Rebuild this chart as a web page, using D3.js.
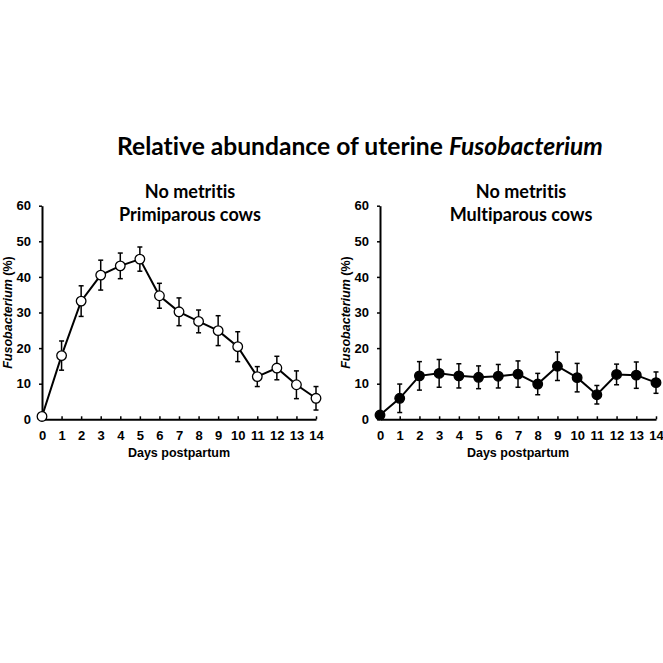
<!DOCTYPE html>
<html>
<head>
<meta charset="utf-8">
<script src="https://cdn.jsdelivr.net/npm/d3@7"></script>
<style>
  html, body { margin: 0; padding: 0; background: #fff; }
  svg { display: block; }
  text { font-variant-ligatures: none; font-feature-settings: "liga" 0, "clig" 0; }
</style>
</head>
<body>
<svg id="chart" width="663" height="663"></svg>
<script>
// ---- data ----
const days = [0, 1, 2, 3, 4, 5, 6, 7, 8, 9, 10, 11, 12, 13, 14];
const yTicks = [0, 10, 20, 30, 40, 50, 60];
const primiMean = [0.8, 17.9, 33.2, 40.5, 43.1, 45.0, 34.7, 30.2, 27.5, 24.9, 20.4, 12.0, 14.4, 9.7, 5.9];
const primiSE   = [0, 4.1, 4.3, 4.2, 3.6, 3.4, 3.5, 3.9, 3.2, 4.2, 4.2, 2.8, 3.3, 3.9, 3.3];
const multiMean = [1.2, 5.9, 12.2, 12.9, 12.2, 11.8, 12.1, 12.7, 9.9, 14.9, 11.7, 6.9, 12.6, 12.4, 10.3];
const multiSE   = [0, 4.0, 4.0, 3.9, 3.4, 3.2, 3.3, 3.7, 3.0, 4.0, 4.0, 2.6, 2.9, 3.7, 3.0];
const mainTitle = ["Relative abundance of uterine ", "Fusobacterium"];
const panelTitles = [["No metritis", "Primiparous cows"], ["No metritis", "Multiparous cows"]];
const xLabel = "Days postpartum";
const yLabelParts = ["Fusobacterium", " (%)"];

const svg = d3.select("#chart");
const axisFont = "'Liberation Sans', Arial, sans-serif";
const titleFont = "Lato, 'Noto Sans', sans-serif";

// ---- main title (fit to measured width) ----
const title = svg.append("text")
  .attr("x", 117).attr("y", 155)
  .attr("font-family", titleFont).attr("font-weight", 700)
  .attr("font-size", 24).attr("fill", "#000");
title.append("tspan").text(mainTitle[0]);
title.append("tspan").attr("font-style", "italic").text(mainTitle[1]);
{
  const w = title.node().getComputedTextLength();
  title.attr("font-size", 24 * 486 / w);
}

const panels = [
  { x0: 42, x1: 316, mean: primiMean, se: primiSE, filled: false, titles: panelTitles[0], tcx: 190 },
  { x0: 380, x1: 656, mean: multiMean, se: multiSE, filled: true, titles: panelTitles[1], tcx: 521 }
];
const yTop = 205.7, yBot = 419.3;

// subtitle size fit
let subSize = 16;
{
  const t = svg.append("text").attr("font-family", titleFont).attr("font-weight", 700)
    .attr("font-size", 16).text(panelTitles[0][1]);
  subSize = 16 * 142 / t.node().getComputedTextLength();
  t.remove();
}

panels.forEach(p => {
  const x = d3.scaleLinear().domain([0, 14]).range([p.x0, p.x1]);
  const y = d3.scaleLinear().domain([0, 60]).range([yBot, yTop]);
  const g = svg.append("g");

  // axes
  const ya = g.append("g").attr("transform", `translate(${p.x0},0)`)
    .call(d3.axisLeft(y).tickValues(yTicks).tickSizeInner(3).tickSizeOuter(0).tickPadding(8));
  const xa = g.append("g").attr("transform", `translate(0,${yBot})`)
    .call(d3.axisBottom(x).tickValues(days).tickSizeInner(-3).tickSizeOuter(0).tickPadding(11));
  [ya, xa].forEach(a => {
    a.select(".domain").attr("stroke", "#000").attr("stroke-width", 2);
    a.selectAll(".tick line").attr("stroke", "#000").attr("stroke-width", 1.5);
    a.selectAll(".tick text").attr("font-family", axisFont).attr("font-weight", 700)
      .attr("font-size", 13).attr("fill", "#000");
  });

  // axis titles
  g.append("text").attr("x", (p.x0 + p.x1) / 2).attr("y", 457)
    .attr("text-anchor", "middle").attr("font-family", axisFont).attr("font-weight", 700)
    .attr("font-size", 12.5).attr("fill", "#000").text(xLabel);
  const yl = g.append("text")
    .attr("transform", `translate(${p.x0 - 34},${(yTop + yBot) / 2}) rotate(-90)`)
    .attr("text-anchor", "middle").attr("dominant-baseline", "central")
    .attr("font-family", axisFont).attr("font-weight", 700)
    .attr("font-size", 12.5).attr("fill", "#000");
  yl.append("tspan").attr("font-style", "italic").text(yLabelParts[0]);
  yl.append("tspan").text(yLabelParts[1]);

  // panel titles
  p.titles.forEach((t, i) => {
    g.append("text").attr("x", p.tcx).attr("y", 198 + i * 23)
      .attr("text-anchor", "middle").attr("font-family", titleFont).attr("font-weight", 700)
      .attr("font-size", subSize).attr("fill", "#000").text(t);
  });

  const pts = days.map((d, i) => ({ d, m: p.mean[i], s: p.se[i] }));

  // line
  g.append("path").datum(pts)
    .attr("fill", "none").attr("stroke", "#000").attr("stroke-width", 2)
    .attr("d", d3.line().x(v => x(v.d)).y(v => y(v.m)));

  // error bars
  const eb = g.append("g").attr("stroke", "#000").attr("stroke-width", 1.5);
  pts.filter(v => v.s > 0).forEach(v => {
    const cx = x(v.d), yt = y(v.m + v.s), yb = y(v.m - v.s);
    eb.append("line").attr("x1", cx).attr("x2", cx).attr("y1", yt).attr("y2", yb);
    eb.append("line").attr("x1", cx - 2.5).attr("x2", cx + 2.5).attr("y1", yt).attr("y2", yt);
    eb.append("line").attr("x1", cx - 2.5).attr("x2", cx + 2.5).attr("y1", yb).attr("y2", yb);
  });

  // markers
  g.append("g").selectAll("circle").data(pts).join("circle")
    .attr("cx", v => x(v.d)).attr("cy", v => y(v.m)).attr("r", 4.8)
    .attr("fill", p.filled ? "#000" : "#fff")
    .attr("stroke", "#000").attr("stroke-width", 1.3);
});
</script>
</body>
</html>
